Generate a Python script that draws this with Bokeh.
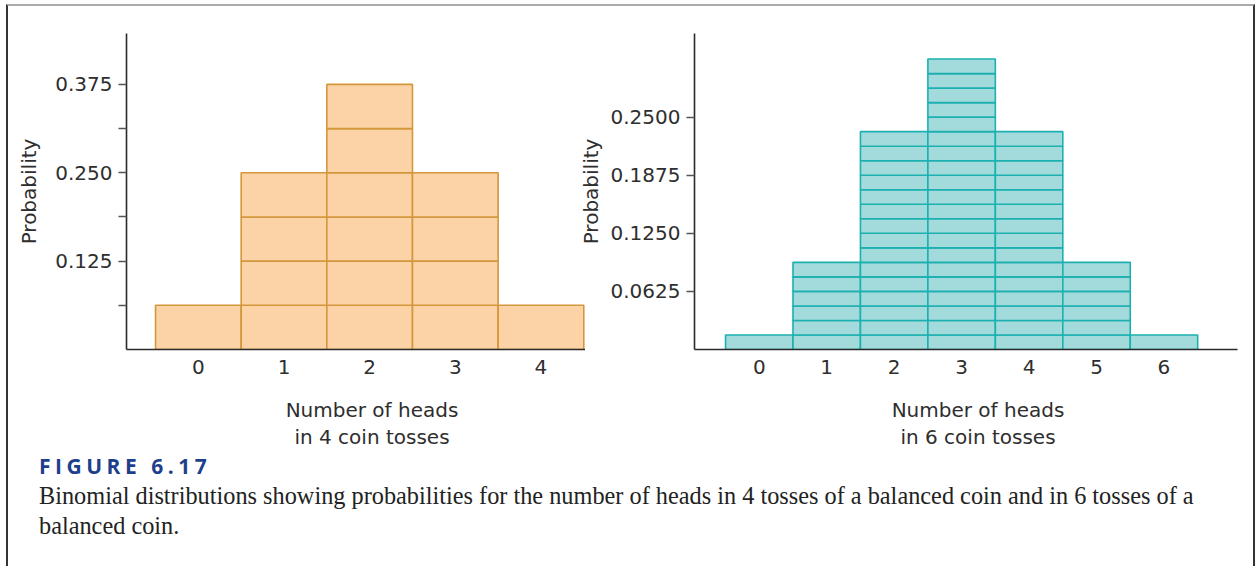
from bokeh.plotting import figure
from bokeh.models import FixedTicker, PrintfTickFormatter, Div, Range1d, ColumnDataSource
from bokeh.layouts import row, column
from bokeh.embed import file_html
from bokeh.resources import INLINE

# ---- data ----
heads4 = [0, 1, 2, 3, 4]
prob4 = [0.0625, 0.25, 0.375, 0.25, 0.0625]
unit4 = 1 / 16

heads6 = [0, 1, 2, 3, 4, 5, 6]
prob6 = [1 / 64, 6 / 64, 15 / 64, 20 / 64, 15 / 64, 6 / 64, 1 / 64]
unit6 = 1 / 64

yticks4 = [0.125, 0.25, 0.375]
yminor4 = [0.0625, 0.1875, 0.3125]
yticks6 = [0.0625, 0.125, 0.1875, 0.25]

xlabel4 = ["Number of heads", "in 4 coin tosses"]
xlabel6 = ["Number of heads", "in 6 coin tosses"]
ylabel = "Probability"
fig_title = "FIGURE 6.17"
caption = ("Binomial distributions showing probabilities for the number of heads in 4 tosses "
           "of a balanced coin and in 6 tosses of a balanced coin.")

FONT = "DejaVu Sans"
FS = "20px"
TXT = "#2e2e2e"


def blocks(xs, ps, unit):
    L, R, B, T = [], [], [], []
    for x, p in zip(xs, ps):
        n = int(round(p / unit))
        for k in range(n):
            L.append(x - 0.5)
            R.append(x + 0.5)
            B.append(k * unit)
            T.append((k + 1) * unit)
    return ColumnDataSource(dict(left=L, right=R, bottom=B, top=T))


def make(xs, ps, unit, width, bl, br, bt, xr, yr, ticks, minor, fmt, fill, line, ylab_standoff, **kw):
    p = figure(width=width, height=392, output_backend="svg", toolbar_location=None,
               x_range=Range1d(*xr), y_range=Range1d(*yr),
               min_border_left=bl, min_border_right=br, min_border_top=bt,
               min_border_bottom=392 - 349, **kw)
    p.outline_line_color = None
    p.grid.visible = False
    p.background_fill_color = "white"
    p.border_fill_color = None
    p.quad(left="left", right="right", bottom="bottom", top="top", source=blocks(xs, ps, unit),
           fill_color=fill, line_color=line, line_width=1.6)

    xa = p.xaxis[0]
    xa.ticker = FixedTicker(ticks=xs)
    xa.major_tick_line_color = None
    xa.minor_tick_line_color = None
    xa.major_tick_out = 0
    xa.major_tick_in = 0
    xa.major_label_standoff = 10
    xa.axis_line_color = "#2a2a2a"
    xa.axis_line_width = 1.6
    xa.major_label_text_font = FONT
    xa.major_label_text_font_size = FS
    xa.major_label_text_color = TXT

    ya = p.yaxis[0]
    ya.ticker = FixedTicker(ticks=ticks, minor_ticks=minor)
    ya.formatter = PrintfTickFormatter(format=fmt)
    ya.axis_line_color = "#2a2a2a"
    ya.axis_line_width = 1.6
    ya.major_tick_line_color = "#555555"
    ya.major_tick_line_width = 1.6
    ya.major_tick_out = 8
    ya.major_tick_in = 0
    ya.minor_tick_line_color = "#555555" if minor else None
    ya.minor_tick_line_width = 1.6
    ya.minor_tick_out = 8
    ya.minor_tick_in = 0
    ya.major_label_standoff = 6
    ya.major_label_text_font = FONT
    ya.major_label_text_font_size = FS
    ya.major_label_text_color = TXT
    ya.axis_label = ylabel
    ya.axis_label_standoff = ylab_standoff
    ya.axis_label_text_font = FONT
    ya.axis_label_text_font_size = FS
    ya.axis_label_text_font_style = "normal"
    ya.axis_label_text_color = TXT
    return p


# left: canvas 0..585, frame 126..585 ; right: canvas 571..1258 (overlapping 14px), frame 694..1237
p1 = make(heads4, prob4, unit4, 585, 126, 0, 32, (-0.839, 4.52), (0, 0.447),
          yticks4, yminor4, "%.3f", "#FBD3A6", "#D4973B", 11)
p2 = make(heads6, prob6, unit6, 687, 123, 21, 33, (-0.96, 7.09), (0, 0.34),
          yticks6, [], "%.4f", "#A3DADB", "#1CB0B0", 5, margin=(0, 0, 0, -14))


def xlab_div(lines, width, center):
    html = ("<div style='position:relative;width:%dpx;height:58px'>"
            "<div style='position:absolute;left:%dpx;top:5px;width:300px;text-align:center;"
            "font-family:\"DejaVu Sans\";font-size:20px;line-height:27px;color:%s;white-space:nowrap'>%s</div></div>"
            % (width, center - 150, TXT, "<br>".join(lines)))
    return Div(width=width, height=58, margin=0, text=html)


d1 = xlab_div(xlabel4, 585, 372)
d2 = xlab_div(xlabel6, 673, 978 - 585)

cap = Div(width=1258, height=116, margin=0, text=(
    "<div style='position:relative;width:1258px;height:116px'>"
    "<div style='position:absolute;left:6px;top:-446px;width:1249px;height:580px;"
    "border-left:2px solid #333;border-right:2px solid #333;border-top:2px solid #aaa;"
    "box-sizing:border-box;pointer-events:none'></div>"
    "<div style='position:absolute;left:39px;top:4px;width:1170px'>"
    "<div style=\"font-family:'Open Sans';font-weight:bold;font-size:21px;letter-spacing:4.5px;"
    "color:#1E3F8C;line-height:24px\">%s</div>"
    "<div style=\"font-family:'Liberation Serif';font-size:24.3px;color:#222;line-height:30px;"
    "margin-top:3px\">%s</div></div></div>" % (fig_title, caption)))

layout = column(row(p1, p2), row(d1, d2), cap)
open("out.html", "w").write(file_html(layout, INLINE))
